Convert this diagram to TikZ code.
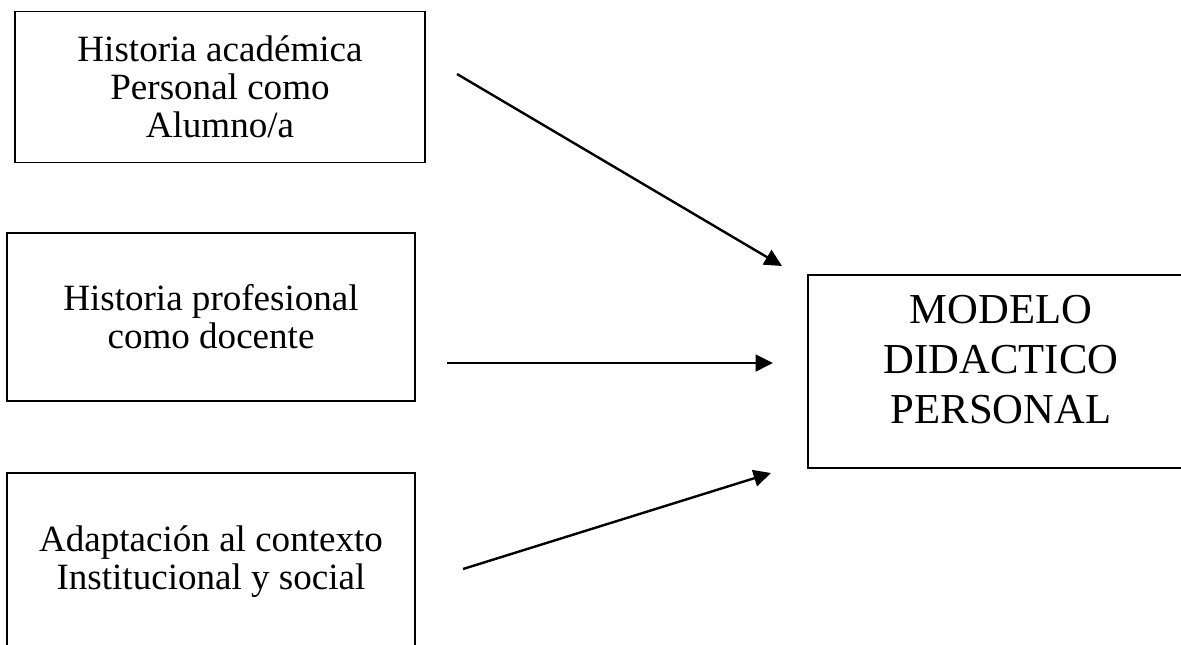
\documentclass[tikz,border=0pt]{standalone}
\usepackage{fontspec}
\setmainfont{Liberation Serif}
\usetikzlibrary{arrows.meta}
\begin{document}
\begin{tikzpicture}[x=0.75pt,y=-0.75pt,
  box/.style={draw, line width=1.3pt, rectangle, inner sep=0pt, align=center,
    font=\fontsize{27.8}{28.6}\selectfont},
  bigtxt/.style={inner sep=0pt, align=center, font=\fontsize{32}{37.5}\selectfont},
  arr/.style={line width=1.8pt, -{Triangle[length=13pt, width=12.5pt]}}]
\useasboundingbox (0,0) rectangle (1181,644);
\clip (0,0) rectangle (1181,644);
\node[box, minimum width=307.5pt, minimum height=113.25pt] (b1) at (220,87)
  {Historia académica\\Personal como\\Alumno/a};
\node[box, minimum width=306pt, minimum height=126pt] (b2) at (211,317)
  {Historia profesional\\como docente};
\node[box, minimum width=306pt, minimum height=133.5pt] (b3) at (211,562)
  {Adaptación al contexto\\Institucional y social};
\node[box, minimum width=289.5pt, minimum height=144.75pt] (m) at (1001,371.5) {};
\node[bigtxt] (mt) at (1001,360) {MODELO\\DIDACTICO\\PERSONAL};
\coordinate (a1s) at (457,74);
\coordinate (a1e) at (782,266);
\coordinate (a2s) at (447,363);
\coordinate (a2e) at (773,363);
\coordinate (a3s) at (463,569);
\coordinate (a3e) at (771,473);
\draw[arr] (a1s) -- (a1e);
\draw[arr] (a2s) -- (a2e);
\draw[arr] (a3s) -- (a3e);
\end{tikzpicture}
\end{document}
